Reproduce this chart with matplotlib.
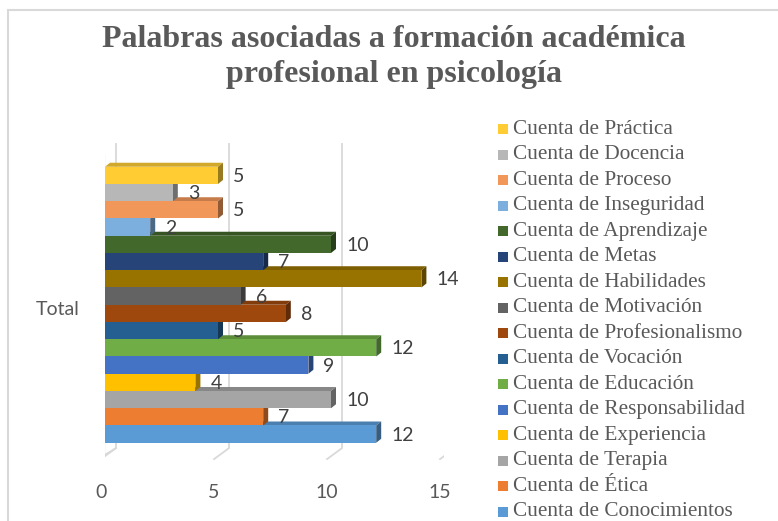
import matplotlib
matplotlib.use("Agg")
import matplotlib.pyplot as plt
from matplotlib.patches import Polygon, Rectangle
from matplotlib.transforms import ScaledTranslation
from matplotlib.colors import to_rgb

# series, bottom bar first (Excel draws the first series at the bottom)
palabras = ["Conocimientos", "Ética", "Terapia", "Experiencia", "Responsabilidad",
            "Educación", "Vocación", "Profesionalismo", "Motivación", "Habilidades",
            "Metas", "Aprendizaje", "Inseguridad", "Proceso", "Docencia", "Práctica"]
cuentas = [12, 7, 10, 4, 9, 12, 5, 8, 6, 14, 7, 10, 2, 5, 3, 5]
colores = ["#5B9BD5", "#ED7D31", "#A5A5A5", "#FFC000", "#4472C4", "#70AD47",
           "#255E91", "#9E480E", "#636363", "#997300", "#264478", "#43682B",
           "#7CAFDD", "#F1975A", "#B7B7B7", "#FFCD33"]
ticks = [0, 5, 10, 15]
categoria = "Total"
titulo = "Palabras asociadas a formación académica\nprofesional en psicología"

W, H = 778, 521
fig = plt.figure(figsize=(W / 100, H / 100), dpi=100)

def fx(x):
    return x / W

def fy(y):
    return 1 - y / H

def shade(c, f):
    r, g, b = to_rgb(c)
    return (r * f, g * f, b * f)

# chart border
fig.patches.append(Rectangle((fx(8), -0.1), 1.2, fy(10) + 0.1, transform=fig.transFigure,
                             fill=False, edgecolor="#D9D9D9", linewidth=1.5))

# axes: x 0..15 -> 105..444 px, y -1.5..17.05 -> 460..140 px
ax = fig.add_axes([fx(105), fy(460), (444 - 105) / W, 320 / H])
ax.set_xlim(0, 15)
ax.set_ylim(-1.5, 17.05)
for s in ax.spines.values():
    s.set_visible(False)
ax.patch.set_alpha(0)

ux = 1 / 22.6   # data units per pixel
uy = 1 / 17.25

# back grid lines with floor
back_top, back_bot, front_bot = 16.82, -0.81, -1.45
for t in ticks:
    xb = t + 11 * ux
    xf = t - 4 * ux
    ax.plot([xb, xb, xf], [back_top, back_bot, front_bot], color="#D9D9D9",
            linewidth=1.3, zorder=0, solid_joinstyle="miter")

# left wall
ax.plot([-2 * ux, -2 * ux], [16.2, -1.2], color="#BFBFBF", linewidth=3, zorder=1,
        solid_capstyle="butt")
ax.plot([-3 * ux, 11 * ux], [-1.3, -0.81], color="#D9D9D9", linewidth=1.3, zorder=0)

# 3D bars
ddx, ddy = 5 * ux, 4 * uy
h = 1.0
for i, (v, c) in enumerate(zip(cuentas, colores)):
    z = 2 + i * 3
    y0, y1 = i - h / 2, i + h / 2
    top = Polygon([(0, y1), (v, y1), (v + ddx, y1 + ddy), (ddx, y1 + ddy)],
                  closed=True, facecolor=shade(c, 0.82), edgecolor="none", zorder=z)
    side = Polygon([(v, y0), (v + ddx, y0 + ddy), (v + ddx, y1 + ddy), (v, y1)],
                   closed=True, facecolor=shade(c, 0.6), edgecolor="none", zorder=z + 1)
    ax.add_patch(top)
    ax.add_patch(side)
    ax.barh(i, v, height=h, color=c, edgecolor="none", zorder=z + 2)
    ax.annotate(str(v), (v, i), xytext=(15, -1), textcoords="offset pixels",
                ha="left", va="center", fontsize=14, family="Lato",
                color="#404040", zorder=100)

ax.set_xticks(ticks)
ax.set_xticklabels([str(t) for t in ticks], fontsize=14, family="Lato", color="#595959")
ax.set_yticks([7.3])
ax.set_yticklabels([categoria], fontsize=14, family="Lato", color="#595959")
ax.tick_params(axis="x", length=0, pad=17)
ax.tick_params(axis="y", length=0, pad=18)
shift = ScaledTranslation(-0.04, 0, fig.dpi_scale_trans)
for lab in ax.get_xticklabels():
    lab.set_transform(lab.get_transform() + shift)

# title
fig.text(fx(394), fy(57), titulo, ha="center", va="center", fontsize=23,
         fontweight="bold", family="Liberation Serif", color="#595959", linespacing=1.3)

# legend, same order as reference (top series first)
for k, idx in enumerate(range(len(palabras) - 1, -1, -1)):
    yc = 129 + k * 25.53
    fig.patches.append(Rectangle((fx(498), fy(yc + 5)), 10 / W, 10 / H,
                                 transform=fig.transFigure, facecolor=colores[idx],
                                 edgecolor="none"))
    fig.text(fx(513), fy(yc), "Cuenta de " + palabras[idx], ha="left", va="center",
             fontsize=15.3, family="Liberation Serif", color="#595959")

plt.savefig("out.png", dpi=100)
